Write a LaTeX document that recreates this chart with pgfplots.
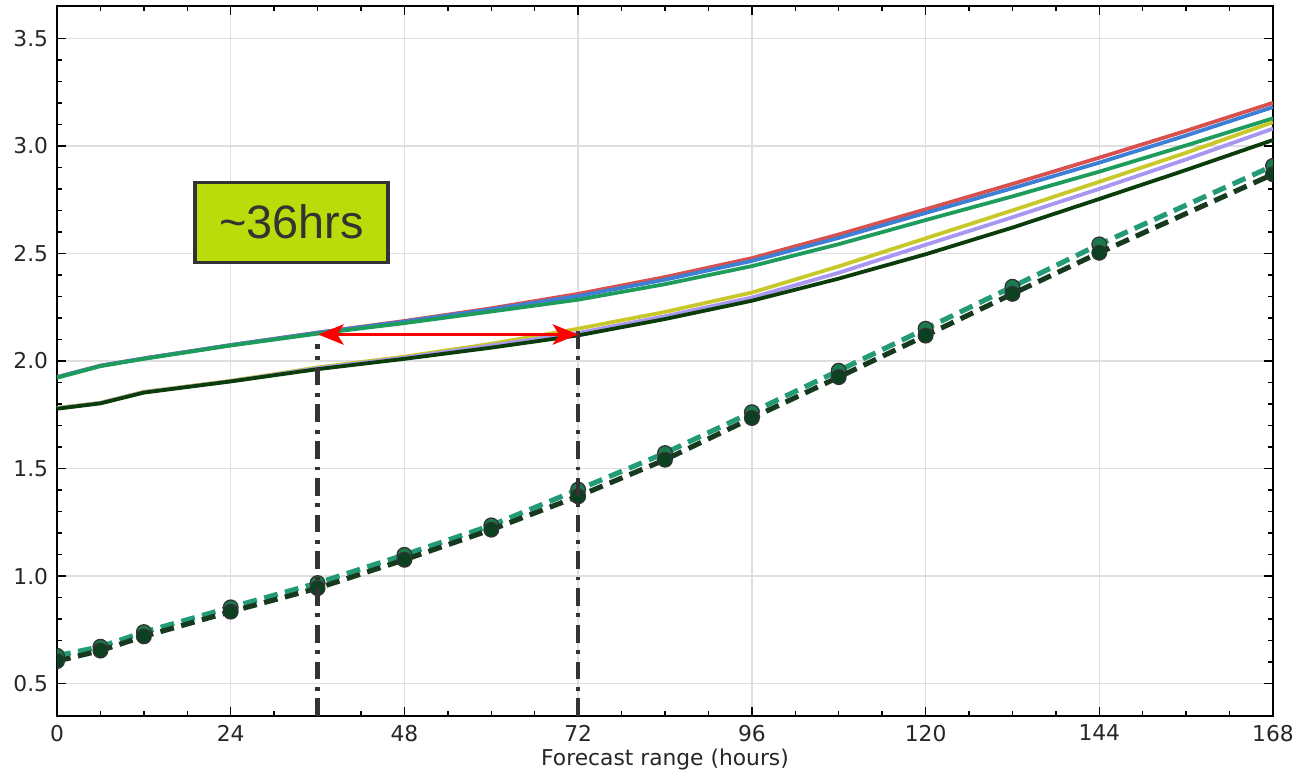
\documentclass[border=0pt]{standalone}
\usepackage{fontspec}
\setmainfont{DejaVu Sans}
\newfontfamily\arialfont{Liberation Sans}
\usepackage{pgfplots}
\pgfplotsset{compat=1.18}
\usetikzlibrary{arrows.meta}

\definecolor{cred}{HTML}{D9514E}
\definecolor{cblue}{HTML}{3D7FD4}
\definecolor{cgreen}{HTML}{1E9C5C}
\definecolor{cyellow}{HTML}{C9C82A}
\definecolor{cpurple}{HTML}{A996F0}
\definecolor{cdark}{HTML}{0B3D0B}
\definecolor{dteal}{HTML}{239B77}
\definecolor{ddark}{HTML}{173A1F}
\definecolor{mteal}{HTML}{1A7A4E}
\definecolor{mdark}{HTML}{0B4020}
\definecolor{boxlime}{HTML}{BADC0A}

\begin{document}
\begin{tikzpicture}
\begin{axis}[
  scale only axis,
  width=16.875cm, height=9.853cm,
  xmin=0, xmax=168, ymin=0.35, ymax=3.65,
  xtick={0,24,...,168},
  ytick={0.5,1.0,...,3.5},
  minor x tick num=3,
  minor y tick num=4,
  major tick length=0.12cm,
  minor tick length=0.07cm,
  tick style={black, line width=0.6pt},
  grid=major,
  major grid style={gray!25, line width=0.6pt},
  axis line style={black, line width=1pt},
  yticklabel style={/pgf/number format/.cd, fixed, fixed zerofill, precision=1},
  /pgf/number format/assume math mode=true,
  ticklabel style={font=\fontsize{8.6}{10}\selectfont, text=black!85},
  xlabel={Forecast range (hours)},
  xlabel style={font=\fontsize{8.6}{10}\selectfont, text=black!85, yshift=0.13cm},
  clip marker paths=true,
]

% solid curves, upper group
\addplot[cred, line width=1.5pt] coordinates {
(0,1.925) (6,1.978) (12,2.012) (24,2.074) (36,2.132) (48,2.186) (60,2.245) (72,2.312)
(84,2.390) (96,2.478) (108,2.588) (120,2.705) (132,2.823) (144,2.945) (156,3.070) (168,3.200)};
\addplot[cblue, line width=1.5pt] coordinates {
(0,1.925) (6,1.978) (12,2.012) (24,2.074) (36,2.131) (48,2.183) (60,2.240) (72,2.302)
(84,2.378) (96,2.465) (108,2.572) (120,2.688) (132,2.803) (144,2.922) (156,3.048) (168,3.180)};
\addplot[cgreen, line width=1.5pt] coordinates {
(0,1.922) (6,1.976) (12,2.010) (24,2.072) (36,2.127) (48,2.176) (60,2.230) (72,2.285)
(84,2.357) (96,2.441) (108,2.543) (120,2.655) (132,2.765) (144,2.880) (156,3.002) (168,3.128)};

% solid curves, lower group
\addplot[cyellow, line width=1.5pt] coordinates {
(0,1.782) (6,1.806) (12,1.857) (24,1.908) (36,1.970) (48,2.020) (60,2.080) (72,2.150)
(84,2.228) (96,2.318) (108,2.440) (120,2.570) (132,2.700) (144,2.833) (156,2.968) (168,3.110)};
\addplot[cpurple, line width=1.5pt] coordinates {
(0,1.780) (6,1.805) (12,1.855) (24,1.906) (36,1.966) (48,2.015) (60,2.072) (72,2.130)
(84,2.208) (96,2.295) (108,2.410) (120,2.540) (132,2.668) (144,2.800) (156,2.937) (168,3.080)};
\addplot[cdark, line width=1.5pt] coordinates {
(0,1.778) (6,1.803) (12,1.853) (24,1.905) (36,1.962) (48,2.010) (60,2.062) (72,2.119)
(84,2.195) (96,2.280) (108,2.383) (120,2.496) (132,2.620) (144,2.753) (156,2.888) (168,3.027)};

% dashed curves with markers
\addplot[dteal, line width=2pt, dash pattern=on 5.5pt off 3pt,
  mark=*, mark size=2.9pt, mark options={solid, fill=mteal, draw=black!80, line width=0.5pt}] coordinates {
(0,0.630) (6,0.672) (12,0.740) (24,0.855) (36,0.968) (48,1.099) (60,1.236) (72,1.402)
(84,1.572) (96,1.762) (108,1.955) (120,2.150) (132,2.345) (144,2.542) (168,2.907)};
\addplot[ddark, line width=2pt, dash pattern=on 5.5pt off 3pt,
  mark=*, mark size=2.9pt, mark options={solid, fill=mdark, draw=black!80, line width=0.5pt}] coordinates {
(0,0.605) (6,0.654) (12,0.720) (24,0.835) (36,0.944) (48,1.076) (60,1.216) (72,1.371)
(84,1.541) (96,1.735) (108,1.925) (120,2.118) (132,2.312) (144,2.503) (168,2.868)};

% vertical dash-dot markers
\addplot[black!80, line width=1.7pt, dash pattern=on 7pt off 3pt on 1.5pt off 3pt] coordinates {(36,0.35) (36,2.08)};
\addplot[black!80, line width=1.7pt, dash pattern=on 7pt off 3pt on 1.5pt off 3pt] coordinates {(72,0.35) (72,2.16)};

% arrow
\draw[red, line width=1.4pt, {Stealth[length=10pt,width=8pt,inset=2.5pt]}-{Stealth[length=10pt,width=8pt,inset=2.5pt]}]
  (axis cs:36.1,2.123) -- (axis cs:72,2.123);

\node[draw=black!80, line width=1.3pt, fill=boxlime, minimum width=2.68cm, minimum height=1.11cm,
  inner sep=0pt, text=black!80, font=\arialfont\fontsize{18.5}{20}\selectfont]
  at (axis cs:32.4,2.645) {\textasciitilde 36hrs};
\end{axis}
\pgfresetboundingbox
\path[use as bounding box] (-0.791,-0.819) rectangle (17.208,9.936);
\end{tikzpicture}
\end{document}
